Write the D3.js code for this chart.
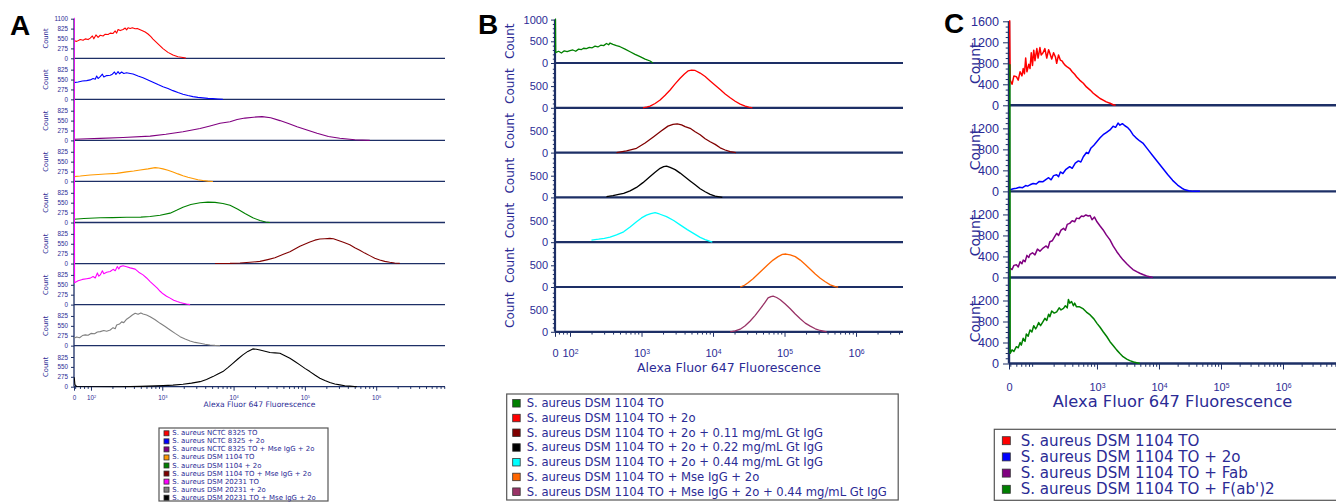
<!DOCTYPE html>
<html>
<head>
<meta charset="utf-8">
<script src="https://cdn.jsdelivr.net/npm/d3@7"></script>
<style>
  body { margin: 0; background: #fff; }
  svg { display: block; font-family: "DejaVu Sans", Verdana, sans-serif; }
</style>
</head>
<body>
<script>
// every series: [log10 of Alexa Fluor 647 fluorescence, count]
// ---- panel A ----
const redA = [[1.76,490],[1.80,470],[1.85,520],[1.89,500],[1.92,540],[1.96,520],[1.99,560],[2.02,620],[2.04,540],[2.07,650],[2.10,580],[2.13,640],[2.17,620],[2.20,670],[2.24,660],[2.27,700],[2.31,690],[2.34,760],[2.36,700],[2.38,800],[2.41,770],[2.45,800],[2.48,840],[2.50,790],[2.52,850],[2.55,830],[2.58,850],[2.62,820],[2.65,830],[2.69,795],[2.73,760],[2.76,730],[2.80,675],[2.84,600],[2.87,535],[2.94,400],[3.01,270],[3.08,165],[3.15,90],[3.22,45],[3.29,20],[3.33,5]];
const blueA = [[1.76,465],[1.82,480],[1.88,510],[1.94,520],[1.99,540],[2.03,580],[2.06,560],[2.08,650],[2.10,580],[2.13,630],[2.16,700],[2.18,620],[2.22,660],[2.27,670],[2.30,700],[2.33,760],[2.35,690],[2.38,770],[2.40,710],[2.43,760],[2.46,720],[2.50,740],[2.55,720],[2.59,705],[2.66,650],[2.73,600],[2.80,540],[2.87,475],[2.94,410],[3.01,353],[3.08,300],[3.15,242],[3.22,190],[3.29,142],[3.36,105],[3.43,75],[3.50,55],[3.57,40],[3.64,28],[3.71,20],[3.78,10],[3.85,0]];
const purpleA = [[1.76,30],[1.95,45],[2.13,55],[2.45,80],[2.83,120],[3.05,170],[3.29,240],[3.53,330],[3.67,400],[3.81,475],[3.95,520],[4.05,580],[4.16,620],[4.28,645],[4.40,660],[4.52,630],[4.65,550],[4.77,470],[4.89,380],[5.03,290],[5.17,197],[5.33,110],[5.49,58],[5.70,20],[5.91,0]];
const orangeA = [[1.76,135],[1.85,150],[1.92,165],[1.99,180],[2.10,195],[2.20,205],[2.36,225],[2.50,265],[2.60,290],[2.69,320],[2.80,350],[2.90,385],[2.95,375],[3.01,350],[3.08,310],[3.15,265],[3.22,210],[3.29,160],[3.36,115],[3.43,80],[3.50,45],[3.57,25],[3.64,10],[3.71,0]];
const greenA = [[1.76,90],[1.90,110],[2.13,130],[2.30,135],[2.50,145],[2.70,150],[2.83,165],[2.97,200],[3.11,260],[3.20,340],[3.29,425],[3.40,500],[3.53,550],[3.64,565],[3.74,560],[3.85,530],[3.95,480],[4.06,370],[4.16,250],[4.27,130],[4.37,55],[4.45,15],[4.51,0]];
const darkRedA = [[3.74,0],[3.95,5],[4.09,15],[4.23,35],[4.37,60],[4.48,110],[4.58,160],[4.69,250],[4.79,330],[4.93,480],[5.07,600],[5.14,650],[5.21,680],[5.28,690],[5.35,700],[5.40,690],[5.46,650],[5.54,590],[5.63,520],[5.70,440],[5.77,370],[5.84,290],[5.91,220],[5.98,150],[6.05,100],[6.12,60],[6.19,35],[6.26,15],[6.33,5]];
const magentaA = [[1.765,8000],[1.77,610],[1.82,660],[1.88,700],[1.94,720],[1.99,735],[2.03,780],[2.06,740],[2.09,880],[2.11,790],[2.13,825],[2.16,940],[2.18,860],[2.22,900],[2.27,920],[2.31,980],[2.34,940],[2.37,1060],[2.39,990],[2.41,1055],[2.45,1080],[2.50,1050],[2.55,1020],[2.62,985],[2.67,900],[2.73,825],[2.78,740],[2.83,640],[2.88,550],[2.93,455],[2.97,370],[3.01,300],[3.06,230],[3.11,180],[3.16,120],[3.21,85],[3.25,60],[3.29,40],[3.34,15],[3.39,0]];
const grayA = [[1.76,205],[1.80,240],[1.84,220],[1.88,280],[1.92,300],[1.96,290],[2.00,340],[2.05,330],[2.09,380],[2.13,390],[2.18,420],[2.22,400],[2.27,435],[2.31,500],[2.34,470],[2.36,575],[2.40,600],[2.43,660],[2.46,640],[2.50,735],[2.54,790],[2.58,850],[2.62,900],[2.66,870],[2.70,910],[2.73,880],[2.78,850],[2.83,805],[2.90,720],[2.97,620],[3.04,530],[3.11,435],[3.18,340],[3.25,250],[3.32,185],[3.39,130],[3.46,90],[3.53,65],[3.60,40],[3.67,20],[3.74,8],[3.81,0]];
const blackA = [[1.765,260],[1.775,60],[1.80,5],[2.40,0],[2.70,10],[3.01,30],[3.15,45],[3.29,70],[3.41,100],[3.53,140],[3.62,200],[3.71,280],[3.78,350],[3.85,420],[3.92,530],[3.99,650],[4.06,770],[4.13,885],[4.20,980],[4.27,1050],[4.32,1040],[4.37,1020],[4.44,985],[4.51,950],[4.58,940],[4.65,930],[4.72,860],[4.79,790],[4.86,700],[4.93,605],[5.00,510],[5.07,420],[5.14,325],[5.21,235],[5.28,170],[5.35,115],[5.42,75],[5.49,50],[5.56,28],[5.63,15],[5.73,0]];
const labelsA = ["S. aureus NCTC 8325 TO", "S. aureus NCTC 8325 + 2o", "S. aureus NCTC 8325 TO + Mse IgG + 2o",
  "S. aureus DSM 1104 TO", "S. aureus DSM 1104 + 2o", "S. aureus DSM 1104 TO + Mse IgG + 2o",
  "S. aureus DSM 20231 TO", "S. aureus DSM 20231 + 2o", "S. aureus DSM 20231 TO + Mse IgG + 2o"];
const colorsA = ["#ff0000", "#0000ff", "#800080", "#ff9900", "#008000", "#800000", "#ff00ff", "#808080", "#000000"];

// ---- panel B ----
const greenB = [[1.795,1200],[1.80,240],[1.84,270],[1.88,230],[1.92,280],[1.96,260],[2.00,285],[2.04,300],[2.08,270],[2.12,320],[2.16,310],[2.19,340],[2.23,330],[2.27,360],[2.31,350],[2.35,390],[2.39,370],[2.43,410],[2.47,400],[2.51,450],[2.54,420],[2.56,460],[2.60,430],[2.65,400],[2.70,375],[2.77,320],[2.84,260],[2.91,200],[2.98,145],[3.05,90],[3.12,46],[3.16,0]];
const redB = [[3.02,0],[3.08,20],[3.12,40],[3.19,100],[3.26,180],[3.33,290],[3.40,410],[3.47,550],[3.54,680],[3.60,780],[3.65,850],[3.70,870],[3.75,860],[3.82,800],[3.89,720],[3.96,620],[4.03,520],[4.10,420],[4.17,320],[4.24,230],[4.31,150],[4.38,85],[4.45,40],[4.50,15],[4.55,0]];
const darkRedB = [[2.65,0],[2.79,40],[2.93,100],[3.05,220],[3.17,365],[3.27,490],[3.37,610],[3.44,650],[3.50,660],[3.56,640],[3.61,600],[3.68,560],[3.75,480],[3.82,410],[3.89,320],[3.96,250],[4.03,190],[4.10,110],[4.17,60],[4.24,20],[4.32,0]];
const blackB = [[2.51,20],[2.60,40],[2.68,70],[2.75,95],[2.84,150],[2.93,230],[3.02,340],[3.12,480],[3.19,580],[3.26,670],[3.31,710],[3.35,720],[3.40,690],[3.47,640],[3.54,560],[3.61,470],[3.68,380],[3.75,290],[3.82,200],[3.89,130],[3.96,70],[4.03,30],[4.13,0]];
const cyanB = [[2.30,50],[2.40,70],[2.48,90],[2.56,115],[2.65,170],[2.75,240],[2.84,350],[2.93,470],[3.00,560],[3.07,625],[3.13,660],[3.19,680],[3.25,650],[3.35,590],[3.45,500],[3.54,400],[3.64,290],[3.75,180],[3.82,110],[3.89,60],[3.99,0]];
const orangeB = [[4.38,0],[4.44,40],[4.49,100],[4.56,190],[4.63,300],[4.70,410],[4.77,520],[4.84,620],[4.91,700],[4.97,750],[5.02,760],[5.08,740],[5.15,700],[5.22,620],[5.29,520],[5.36,410],[5.43,300],[5.50,200],[5.57,120],[5.64,50],[5.71,10],[5.75,0]];
const mauveB = [[4.24,0],[4.31,20],[4.38,60],[4.45,140],[4.52,250],[4.59,380],[4.66,530],[4.72,660],[4.77,780],[4.81,810],[4.84,820],[4.89,790],[4.94,740],[5.01,640],[5.08,530],[5.15,410],[5.22,300],[5.29,200],[5.36,130],[5.43,70],[5.50,30],[5.59,0]];
const labelsB = ["S. aureus DSM 1104 TO", "S. aureus DSM 1104 TO + 2o", "S. aureus DSM 1104 TO + 2o + 0.11 mg/mL Gt IgG",
  "S. aureus DSM 1104 TO + 2o + 0.22 mg/mL Gt IgG", "S. aureus DSM 1104 TO + 2o + 0.44 mg/mL Gt IgG",
  "S. aureus DSM 1104 TO + Mse IgG + 2o", "S. aureus DSM 1104 TO + Mse IgG + 2o + 0.44 mg/mL Gt IgG"];
const colorsB = ["#008000", "#ff0000", "#800000", "#000000", "#00ffff", "#ff6600", "#993366"];

// ---- panel C ----
const redC = [[1.59,1800],[1.60,480],[1.63,400],[1.66,560],[1.70,545],[1.73,480],[1.76,640],[1.79,560],[1.81,700],[1.83,600],[1.85,900],[1.87,640],[1.90,780],[1.92,700],[1.94,1000],[1.96,760],[1.98,1050],[2.00,850],[2.03,1080],[2.05,900],[2.08,1100],[2.10,960],[2.13,1000],[2.16,1080],[2.19,900],[2.22,1060],[2.24,990],[2.27,880],[2.30,1000],[2.33,920],[2.35,800],[2.38,960],[2.41,860],[2.44,840],[2.46,800],[2.49,760],[2.52,730],[2.56,700],[2.60,640],[2.64,590],[2.67,545],[2.72,480],[2.78,420],[2.83,350],[2.89,290],[2.94,230],[3.00,175],[3.05,130],[3.10,100],[3.15,65],[3.21,40],[3.26,10],[3.30,0]];
const blueC = [[1.60,30],[1.65,50],[1.70,60],[1.75,80],[1.80,70],[1.85,110],[1.88,100],[1.92,125],[1.97,150],[2.02,140],[2.07,190],[2.13,185],[2.18,230],[2.22,260],[2.26,220],[2.30,300],[2.35,315],[2.38,280],[2.41,370],[2.45,340],[2.50,420],[2.56,470],[2.60,440],[2.65,540],[2.70,580],[2.74,560],[2.78,660],[2.83,740],[2.86,720],[2.90,820],[2.95,880],[3.00,950],[3.05,1020],[3.10,1080],[3.15,1120],[3.21,1170],[3.26,1240],[3.30,1220],[3.34,1300],[3.37,1260],[3.41,1290],[3.45,1250],[3.49,1220],[3.53,1170],[3.58,1080],[3.63,1020],[3.69,960],[3.74,920],[3.82,800],[3.90,680],[3.98,560],[4.06,440],[4.14,320],[4.22,210],[4.30,120],[4.37,60],[4.42,30],[4.48,10],[4.55,0],[4.66,0]];
const purpleC = [[1.60,175],[1.63,150],[1.66,230],[1.70,240],[1.73,200],[1.76,300],[1.79,260],[1.81,330],[1.84,300],[1.87,420],[1.90,380],[1.92,440],[1.96,470],[2.00,430],[2.04,540],[2.08,500],[2.13,560],[2.18,600],[2.21,560],[2.24,680],[2.28,700],[2.32,780],[2.35,840],[2.38,800],[2.42,900],[2.46,935],[2.49,900],[2.52,1010],[2.56,1030],[2.60,1080],[2.64,1060],[2.67,1130],[2.71,1120],[2.75,1170],[2.78,1160],[2.82,1190],[2.86,1170],[2.89,1180],[2.92,1100],[2.96,1150],[3.00,1060],[3.05,980],[3.10,905],[3.15,810],[3.21,715],[3.26,600],[3.32,490],[3.37,410],[3.42,335],[3.48,260],[3.53,205],[3.58,150],[3.64,110],[3.70,75],[3.75,50],[3.80,30],[3.85,15],[3.90,0]];
const greenC = [[1.595,5700],[1.60,195],[1.63,260],[1.66,230],[1.70,320],[1.73,300],[1.76,400],[1.78,350],[1.81,480],[1.84,420],[1.86,560],[1.89,520],[1.92,640],[1.95,600],[1.98,720],[2.01,660],[2.03,700],[2.06,780],[2.09,720],[2.13,800],[2.16,860],[2.19,820],[2.22,940],[2.24,890],[2.27,1000],[2.31,960],[2.35,985],[2.39,1060],[2.42,1020],[2.46,1050],[2.49,1100],[2.52,1060],[2.54,1220],[2.56,1150],[2.59,1180],[2.62,1100],[2.64,1150],[2.67,1080],[2.72,1080],[2.78,1040],[2.83,980],[2.89,925],[2.95,850],[3.00,765],[3.05,690],[3.10,605],[3.16,510],[3.21,415],[3.27,330],[3.32,255],[3.37,190],[3.42,130],[3.48,85],[3.53,55],[3.59,30],[3.64,15],[3.69,0]];
const labelsC = ["S. aureus DSM 1104 TO", "S. aureus DSM 1104 TO + 2o", "S. aureus DSM 1104 TO + Fab", "S. aureus DSM 1104 TO + F(ab')2"];
const colorsC = ["#ff0000", "#0000ff", "#800080", "#008000"];

const axisColor = "#1d2f66";
const textColor = "#2b2b95";

const svg = d3.select("body").append("svg")
    .attr("width", 1336)
    .attr("height", 503);

const panels = [
    {
        name: "A", letterX: 10, letterY: 35,
        left: 74, right: 445, firstBase: 58.3, step: 41.05, trackH: 39.6,
        yMax: 1100, yTicks: [0, 275, 550, 825], yMinor: [],
        eMin: 1.762, eMax: 6.965, xMajor: [1e2, 1e3, 1e4, 1e5, 1e6],
        series: [redA, blueA, purpleA, orangeA, greenA, darkRedA, magentaA, grayA, blackA], colors: colorsA,
        tickFont: 6.3, yTickLen: 3, yTickPad: 3, countX: 46, countFont: 6.8,
        xTickLen: 4, xTickPad: 4.7, xTickFont: 6.3, xLabelY: 406.5, xLabelFont: 7.6,
        axisW: 1.3, lineW: 1.1,
        legend: { x: 159, y: 428, w: 169, h: 73, row0: 433.3, rowStep: 8.05, sw: 5, swX: 164, textX: 172.3, font: 6.95, labels: labelsA }
    },
    {
        name: "B", letterX: 478, letterY: 34,
        left: 555, right: 903, firstBase: 63, step: 44.8, trackH: 43.4,
        yMax: 1000, yTicks: [0, 500], yMinor: [100, 200, 300, 400, 600, 700, 800, 900],
        eMin: 1.79, eMax: 6.657, xMajor: [1e2, 1e3, 1e4, 1e5, 1e6],
        series: [greenB, redB, darkRedB, blackB, cyanB, orangeB, mauveB], colors: colorsB,
        tickFont: 11, yTickLen: 4, yTickPad: 3, countX: 510, countFont: 12,
        xTickLen: 5, xTickPad: 12.5, xTickFont: 11, xLabelY: 371.5, xLabelFont: 12.5,
        axisW: 2.2, lineW: 1.3,
        legend: { x: 506.7, y: 394, w: 391.5, h: 106, row0: 403.3, rowStep: 14.73, sw: 7.5, swX: 512.7, textX: 526.7, font: 11.6, labels: labelsB }
    },
    {
        name: "C", letterX: 944, letterY: 33,
        left: 1009, right: 1336, firstBase: 105.3, step: 86.07, trackH: 84,
        yMax: 1600, yTicks: [0, 400, 800, 1200], yMinor: [100, 200, 300, 500, 600, 700, 900, 1000, 1100, 1300, 1400, 1500],
        eMin: 1.581, eMax: 6.855, xMajor: [1e3, 1e4, 1e5, 1e6],
        series: [redC, blueC, purpleC, greenC], colors: colorsC,
        tickFont: 12.6, yTickLen: 6, yTickPad: 4, countX: 975, countFont: 14,
        xTickLen: 6, xTickPad: 14, xTickFont: 11, xLabelY: 407, xLabelFont: 16.3,
        axisW: 2.4, lineW: 1.5,
        legend: { x: 994.3, y: 429.3, w: 360, h: 71, row0: 440.7, rowStep: 16.2, sw: 8, swX: 1002.3, textX: 1020.7, font: 15.1, labels: labelsC }
    }
];

panels.forEach(drawPanel);

function drawPanel(p) {
    const g = svg.append("g").attr("class", "panel-" + p.name);
    const x = d3.scaleLog().domain([10 ** p.eMin, 10 ** p.eMax]).range([p.left, p.right]);
    const n = p.series.length;
    const base = i => p.firstBase + i * p.step;
    const top = p.firstBase - p.trackH;
    const bottom = base(n - 1);

    // panel letter
    svg.append("text")
        .attr("x", p.letterX).attr("y", p.letterY)
        .attr("font-family", "'Liberation Sans', Arial, sans-serif")
        .attr("font-weight", "bold").attr("font-size", 28)
        .attr("fill", "#000")
        .text(p.name);

    const clipId = "clip-" + p.name;
    svg.append("clipPath").attr("id", clipId)
        .append("rect")
        .attr("x", p.left).attr("y", top - 1)
        .attr("width", p.right - p.left + 2).attr("height", bottom - top + 2);

    // left axis line
    g.append("line")
        .attr("x1", p.left).attr("x2", p.left)
        .attr("y1", top).attr("y2", bottom)
        .attr("stroke", axisColor).attr("stroke-width", p.axisW);

    const yScales = p.series.map((s, i) => d3.scaleLinear().domain([0, p.yMax]).range([base(i), base(i) - p.trackH]));

    yScales.forEach((y, i) => {
        const ticks = i === 0 ? p.yTicks.concat([p.yMax]) : p.yTicks;
        const ay = g.append("g")
            .attr("transform", `translate(${p.left},0)`)
            .call(d3.axisLeft(y).tickValues(ticks).tickSize(p.yTickLen).tickPadding(p.yTickPad).tickFormat(d3.format("d")));
        ay.select(".domain").remove();
        ay.selectAll("line").attr("stroke", axisColor);
        ay.selectAll("text").attr("fill", textColor).attr("font-size", p.tickFont).attr("font-family", null);

        if (p.yMinor.length) {
            const am = g.append("g")
                .attr("transform", `translate(${p.left},0)`)
                .call(d3.axisLeft(y).tickValues(p.yMinor).tickSize(p.yTickLen * 0.55).tickFormat(""));
            am.select(".domain").remove();
            am.selectAll("line").attr("stroke", axisColor);
        }

        // track baseline
        g.append("line")
            .attr("x1", p.left).attr("x2", p.right)
            .attr("y1", base(i)).attr("y2", base(i))
            .attr("stroke", axisColor).attr("stroke-width", p.axisW);

        // y title
        g.append("text")
            .attr("transform", `translate(${p.countX},${base(i) - p.trackH / 2}) rotate(-90)`)
            .attr("text-anchor", "middle").attr("dominant-baseline", "central")
            .attr("font-size", p.countFont).attr("fill", textColor)
            .text("Count");
    });

    // x axis (bottom)
    const majors = [10 ** p.eMin].concat(p.xMajor);
    const ax = g.append("g")
        .attr("transform", `translate(0,${bottom})`)
        .call(d3.axisBottom(x).tickValues(majors).tickSize(p.xTickLen).tickPadding(p.xTickPad).tickFormat(""));
    ax.select(".domain").remove();
    ax.selectAll("line").attr("stroke", axisColor);
    ax.selectAll(".tick text").each(function (d, i) {
        const t = d3.select(this).attr("fill", textColor).attr("font-size", p.xTickFont);
        if (i === 0) {
            t.text("0");
        } else {
            t.append("tspan").text("10");
            t.append("tspan").attr("dy", "-0.45em").attr("font-size", p.xTickFont * 0.62)
                .text(Math.round(Math.log10(d)));
        }
    });
    const minorX = x.ticks().filter(v => Math.abs(Math.log10(v) - Math.round(Math.log10(v))) > 1e-6);
    const axm = g.append("g")
        .attr("transform", `translate(0,${bottom})`)
        .call(d3.axisBottom(x).tickValues(minorX).tickSize(p.xTickLen * 0.55).tickFormat(""));
    axm.select(".domain").remove();
    axm.selectAll("line").attr("stroke", axisColor);

    g.append("text")
        .attr("x", (p.left + p.right) / 2).attr("y", p.xLabelY)
        .attr("text-anchor", "middle")
        .attr("font-size", p.xLabelFont).attr("fill", textColor)
        .text("Alexa Fluor 647 Fluorescence");

    // histograms
    const curves = g.append("g").attr("clip-path", `url(#${clipId})`);
    p.series.forEach((s, i) => {
        const line = d3.line()
            .x(d => x(10 ** d[0]))
            .y(d => yScales[i](d[1]));
        curves.append("path")
            .datum(s)
            .attr("d", line)
            .attr("fill", "none")
            .attr("stroke", p.colors[i])
            .attr("stroke-width", p.lineW)
            .attr("stroke-linejoin", "round");
    });

    drawLegend(p.legend, p.colors);
}

function drawLegend(L, colors) {
    const lg = svg.append("g");
    lg.append("rect")
        .attr("x", L.x).attr("y", L.y).attr("width", L.w).attr("height", L.h)
        .attr("fill", "#fff").attr("stroke", "#555").attr("stroke-width", 1.2);
    L.labels.forEach((label, i) => {
        const cy = L.row0 + i * L.rowStep;
        lg.append("rect")
            .attr("x", L.swX).attr("y", cy - L.sw / 2)
            .attr("width", L.sw).attr("height", L.sw)
            .attr("fill", colors[i]).attr("stroke", "#333").attr("stroke-width", 0.8);
        lg.append("text")
            .attr("x", L.textX).attr("y", cy)
            .attr("dominant-baseline", "central")
            .attr("font-size", L.font).attr("fill", textColor)
            .text(label);
    });
}
</script>
</body>
</html>
